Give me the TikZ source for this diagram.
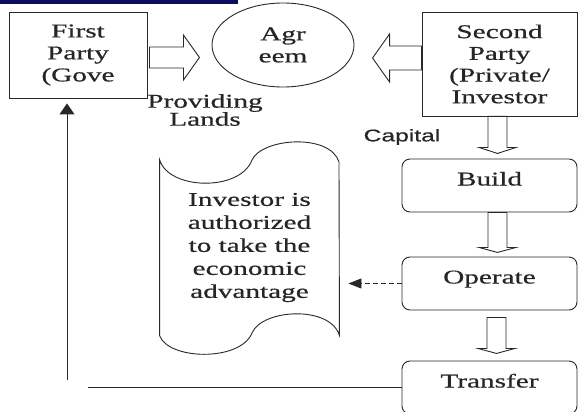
\documentclass[tikz,border=0pt]{standalone}
\usepackage{fontspec}
\setmainfont{Liberation Serif}[FakeStretch=1.5, FakeBold=0.6]
\newfontfamily\capfont{Liberation Sans}[FakeStretch=1.45, FakeBold=0.4]
\usetikzlibrary{shapes.geometric, positioning, calc, arrows.meta}
\definecolor{barblue}{RGB}{12,12,92}
\definecolor{inkgrey}{RGB}{40,40,40}
\tikzset{
  party/.style={draw, align=center, inner sep=0pt},
  phase/.style={draw, rounded corners=8pt, minimum width=175pt, minimum height=53pt,
    text height=13pt, text depth=13pt, inner sep=0pt},
  blockarrow/.style={draw, fill=white, line join=miter},
}

\begin{document}
\begin{tikzpicture}[x=1pt, y=-1pt, line width=0.9pt, color=inkgrey, text=black!85,
    font=\fontsize{19.5}{22}\selectfont]
        \useasboundingbox (0,0) rectangle (579,412);
        \fill[barblue] (0,0) rectangle (238,4);
        % Parties and agreement
        \node[party, minimum width=138pt, minimum height=86pt] (first) at (78,55) {First\\Party\\(Gove};
        \node[ellipse, draw, minimum width=142pt, minimum height=84pt, align=center, inner sep=0pt] (agr) at (283,45) {Agr\\eem};
        \node[party, minimum width=155pt, minimum height=104pt, font=\fontsize{19.5}{21.7}\selectfont] (second) at (499.5,64) {Second\\Party\\(Private/\\Investor};
        \node[align=center, font=\fontsize{19.5}{18}\selectfont] (lands) at (205,110) {Providing\\Lands};
        \node[font=\capfont\fontsize{17}{20}\selectfont] (capital) at (402,137) {Capital};
        % Build, operate, transfer
        \node[phase] (build) at (489.5,185.5) {Build};
        \node[phase] (operate) at (489.5,283.5) {Operate};
        \node[phase] (transfer) at (489.5,387.5) {Transfer};
        % Scroll with the investor's benefit
        \node[minimum width=179pt, minimum height=175pt, align=center, font=\fontsize{19.5}{23}\selectfont] (doc) at (249.5,247.5) {Investor is\\authorized\\to take the\\economic\\advantage};
        \draw (doc.north west) .. controls (168,190) and (240,192) .. (252,160)
            .. controls (262,138) and (330,133) .. (339,162) -- (doc.south east)
            .. controls (330,305) and (262,309) .. (252,333)
            .. controls (240,362) and (168,360) .. (doc.south west) -- cycle;
        % Hollow arrows
        \draw[blockarrow] (first.east) ++(2,-8) -- ++(34,0) -- ++(0,-12) -- ++(16,22.5) -- ++(-16,22.5) -- ++(0,-12) -- ++(-34,0) -- cycle;
        \draw[blockarrow] (second.west) ++(0,-18) -- ++(-32,0) -- ++(0,-12) -- ++(-17,24) -- ++(17,24) -- ++(0,-12) -- ++(32,0) -- cycle;
        \draw[blockarrow] ($(build.north |- second.south)+(-1.5,0)$) -- ++(0,31) -- ++(-9,0) -- ++(18.5,6) -- ++(18.5,-6) -- ++(-9,0) -- ++(0,-31) -- cycle;
        \draw[blockarrow] ($(operate.north |- build.south)+(-1.5,0)$) -- ++(0,35) -- ++(-9,0) -- ++(18.5,5) -- ++(18.5,-5) -- ++(-9,0) -- ++(0,-35) -- cycle;
        \draw[blockarrow] ($(transfer.north |- operate.south)+(-2.5,7)$) -- ++(0,31) -- ++(-9,0) -- ++(18.5,5) -- ++(18.5,-5) -- ++(-9,0) -- ++(0,-31) -- cycle;
        % Dashed benefit arrow and the way back
        \draw[dashed, dash pattern=on 5pt off 3pt, -{Triangle[length=13pt,width=10pt]}, shorten >=9pt] (operate.west) -- (operate.west -| doc.east);
        \coordinate (lineend) at (88,387.5);
        \coordinate (ret) at (67,380);
        \draw (transfer.west) -- (lineend);
        \draw[-{Triangle[length=11pt,width=15pt]}, shorten >=5pt] (ret) -- (ret |- first.south);
\end{tikzpicture}
\end{document}
